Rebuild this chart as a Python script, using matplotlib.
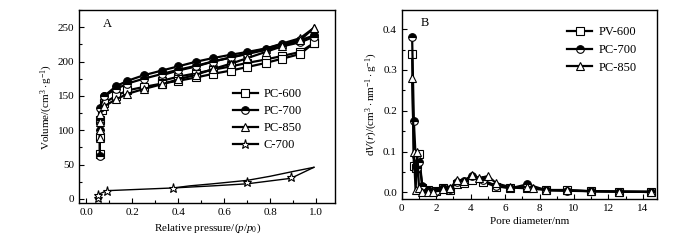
import matplotlib
matplotlib.use("Agg")
import matplotlib.pyplot as plt
from matplotlib.ticker import MultipleLocator

plt.rcParams["font.family"] = ["Liberation Serif", "DejaVu Serif"]
plt.rcParams["mathtext.fontset"] = "custom"
plt.rcParams["mathtext.rm"] = "Liberation Serif"
plt.rcParams["mathtext.it"] = "Liberation Serif:italic"
plt.rcParams["font.size"] = 8

# ---- panel A: N2 isotherms (adsorption, then desorption branch) ----
p600_ads = [0.06, 0.06, 0.06, 0.07, 0.08, 0.13, 0.18, 0.25, 0.33, 0.40, 0.48, 0.55, 0.63, 0.70, 0.78, 0.85, 0.93, 0.99]
v600_ads = [65, 90, 115, 130, 140, 150, 158, 163, 168, 172, 177, 182, 187, 192, 198, 204, 211, 227]
p600_des = [0.99, 0.93, 0.85, 0.78, 0.70, 0.63, 0.55, 0.48, 0.40, 0.33]
v600_des = [227, 214, 208, 203, 198, 193, 188, 183, 178, 172]

p700_ads = [0.06, 0.06, 0.06, 0.06, 0.08, 0.13, 0.18, 0.25, 0.33, 0.40, 0.48, 0.55, 0.63, 0.70, 0.78, 0.85, 0.93, 0.99]
v700_ads = [62, 100, 115, 133, 150, 160, 168, 175, 182, 188, 194, 200, 206, 211, 217, 222, 228, 236]
p700_des = [0.99, 0.93, 0.85, 0.78, 0.70, 0.63, 0.55, 0.48, 0.40, 0.33, 0.25, 0.18, 0.13, 0.08]
v700_des = [238, 231, 225, 219, 214, 210, 205, 200, 193, 187, 180, 172, 164, 150]

p850_ads = [0.06, 0.06, 0.06, 0.06, 0.08, 0.13, 0.18, 0.25, 0.33, 0.40, 0.48, 0.55, 0.63, 0.70, 0.78, 0.85, 0.93, 0.99]
v850_ads = [88, 100, 112, 123, 135, 145, 153, 160, 167, 174, 181, 189, 197, 205, 214, 222, 231, 249]
p850_des = [0.99, 0.93, 0.85, 0.78, 0.70, 0.63, 0.55, 0.48, 0.40, 0.33]
v850_des = [249, 234, 226, 219, 212, 206, 200, 193, 187, 180]

pc_ads = [0.05, 0.05, 0.09, 0.38, 0.55, 0.70, 0.89, 0.99]
vc_ads = [2, 6, 12, 16, 19, 22, 30, 46]
pc_des = [0.99, 0.90, 0.80, 0.70, 0.55, 0.45, 0.38]
vc_des = [46, 40, 33, 27, 22, 19, 16]
pc_mark = [0.05, 0.05, 0.09, 0.38, 0.70, 0.89]
vc_mark = [2, 6, 12, 16, 25, 32]

# ---- panel B: pore size distribution ----
d600 = [0.6, 0.7, 0.8, 0.9, 1.0, 1.2, 1.5, 2.0, 2.4, 2.8, 3.2, 3.6, 4.1, 4.7, 5.5, 6.3, 7.3, 8.4, 9.6, 11.0, 12.6, 14.5]
f600 = [0.338, 0.065, 0.06, 0.07, 0.095, 0.01, 0.005, 0.003, 0.012, 0.005, 0.02, 0.022, 0.03, 0.026, 0.014, 0.012, 0.01, 0.006, 0.005, 0.003, 0.002, 0.002]
d700 = [0.6, 0.7, 0.8, 0.9, 1.0, 1.2, 1.5, 2.0, 2.4, 2.8, 3.2, 3.6, 4.1, 4.7, 5.5, 6.3, 7.3, 8.4, 9.6, 11.0, 12.6, 14.5]
f700 = [0.38, 0.175, 0.09, 0.06, 0.075, 0.015, 0.005, 0.004, 0.01, 0.008, 0.025, 0.028, 0.04, 0.03, 0.016, 0.01, 0.02, 0.005, 0.004, 0.003, 0.002, 0.001]
d850 = [0.6, 0.7, 0.8, 0.9, 1.0, 1.2, 1.5, 1.8, 2.4, 2.8, 3.2, 3.6, 4.1, 4.5, 5.0, 5.5, 6.3, 7.3, 7.6, 8.4, 9.6, 11.0, 12.6, 14.5]
f850 = [0.28, 0.10, 0.005, 0.10, 0.01, 0.002, 0.001, 0.0, 0.008, 0.01, 0.03, 0.028, 0.043, 0.035, 0.04, 0.022, 0.013, 0.013, 0.012, 0.006, 0.006, 0.003, 0.002, 0.001]

fig = plt.figure(figsize=(7, 2.4), dpi=100)
ax1 = fig.add_axes([0.113, 0.154, 0.366, 0.804])
ax2 = fig.add_axes([0.574, 0.171, 0.364, 0.7875])

mk = dict(color="black", mfc="white", mec="black", ms=5.5, lw=1.6, mew=0.8)
mk_half = dict(color="black", mec="black", fillstyle="top", markerfacecoloralt="white",
               ms=5.5, lw=1.6, mew=0.8)

ax1.plot(p600_des, v600_des, marker="s", **mk)
ax1.plot(p700_des, v700_des, marker="o", **mk_half)
ax1.plot(p850_des, v850_des, marker="^", **mk)
ax1.plot(p600_ads, v600_ads, marker="s", label="PC-600", **mk)
ax1.plot(p700_ads, v700_ads, marker="o", label="PC-700", **mk_half)
ax1.plot(p850_ads, v850_ads, marker="^", label="PC-850", **mk)
ax1.plot(pc_ads, vc_ads, color="black", lw=1.0)
ax1.plot(pc_des, vc_des, color="black", lw=1.0)
ax1.plot(pc_mark, vc_mark, marker="*", ls="none", color="black", mfc="white", mec="black", ms=6.5, mew=0.8)
ax1.plot([], [], marker="*", color="black", mfc="white", mec="black", ms=6.5, mew=0.8, lw=1.6, label="C-700")

ax1.set_xlim(-0.03, 1.083)
ax1.set_ylim(-6, 275)
ax1.xaxis.set_major_locator(MultipleLocator(0.2))
ax1.xaxis.set_minor_locator(MultipleLocator(0.1))
ax1.yaxis.set_major_locator(MultipleLocator(50))
ax1.yaxis.set_minor_locator(MultipleLocator(25))
ax1.set_xticks([0.0, 0.2, 0.4, 0.6, 0.8, 1.0])
ax1.set_xticklabels(["0.0", "0.2", "0.4", "0.6", "0.8", "1.0"])
ax1.set_xlabel(r"Relative pressure/($p$/$p_0$)", labelpad=3)
ax1.set_ylabel(r"Volume/(cm$^3\cdot$g$^{-1}$)", labelpad=2)
ax1.text(0.11, 0.93, "A", transform=ax1.transAxes, ha="center", va="center", fontsize=9)
ax1.legend(loc="upper left", bbox_to_anchor=(0.58, 0.62), frameon=False, fontsize=9,
           handlelength=2.0, handletextpad=0.5, labelspacing=0.4, borderaxespad=0)

ax2.plot(d600, f600, marker="s", label="PV-600", **mk)
ax2.plot(d700, f700, marker="o", label="PC-700", **mk_half)
ax2.plot(d850, f850, marker="^", label="PC-850", **mk)
ax2.set_xlim(0, 14.8)
ax2.set_ylim(-0.016, 0.447)
ax2.xaxis.set_major_locator(MultipleLocator(2))
ax2.xaxis.set_minor_locator(MultipleLocator(1))
ax2.yaxis.set_major_locator(MultipleLocator(0.1))
ax2.yaxis.set_minor_locator(MultipleLocator(0.05))
ax2.yaxis.set_major_formatter(matplotlib.ticker.FormatStrFormatter("%.1f"))
ax2.set_xlabel("Pore diameter/nm", labelpad=3)
ax2.set_ylabel(r"d$V$($r$)/(cm$^3\cdot$nm$^{-1}\cdot$g$^{-1}$)", labelpad=2)
ax2.text(0.09, 0.93, "B", transform=ax2.transAxes, ha="center", va="center", fontsize=9)
ax2.legend(loc="upper left", bbox_to_anchor=(0.63, 0.94), frameon=False, fontsize=9,
           handlelength=2.0, handletextpad=0.5, labelspacing=0.45, borderaxespad=0)

for ax in (ax1, ax2):
    ax.tick_params(which="both", direction="in", top=False, right=False, width=0.8)
    ax.tick_params(which="major", length=3.5)
    ax.tick_params(which="minor", length=2)
    for s in ax.spines.values():
        s.set_linewidth(1.0)

fig.savefig("out.png", dpi=100)
